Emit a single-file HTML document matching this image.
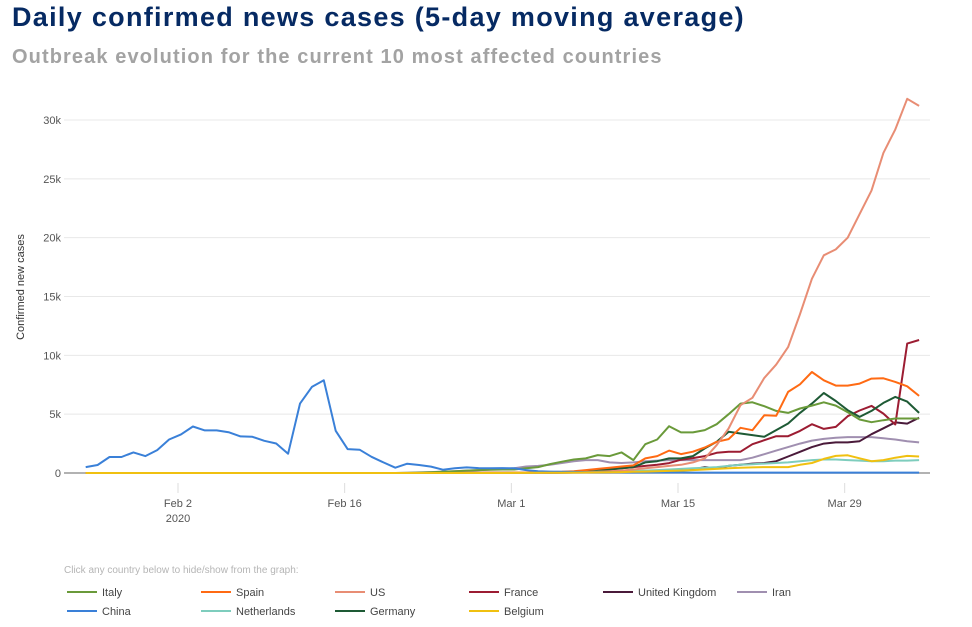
<!DOCTYPE html>
<html><head><meta charset="utf-8"><style>
body{margin:0;background:#fff;width:972px;height:627px;overflow:hidden;font-family:"Liberation Sans",sans-serif}
#t{position:absolute;left:12px;top:2px;font-size:27px;font-weight:bold;color:#062a63;letter-spacing:1.3px}
#s{position:absolute;left:12px;top:46px;font-size:20px;font-weight:bold;color:#a3a3a3;letter-spacing:1.1px}
svg{position:absolute;left:0;top:0}
</style></head><body>
<div id="t">Daily confirmed news cases (5-day moving average)</div>
<div id="s">Outbreak evolution for the current 10 most affected countries</div>
<svg id="c" width="972" height="627"></svg>
<script>
// Days Jan 25 .. Apr 4 (71 points)
const yTicks=[0,5000,10000,15000,20000,25000,30000];
const yTickLabels=["0","5k","10k","15k","20k","25k","30k"];
const xTickDays=[8,22,36,50,64]; // days since Jan 25
const xTickLabels=["Feb 2","Feb 16","Mar 1","Mar 15","Mar 29"];
const countries=["Italy","Spain","US","France","United Kingdom","Iran","China","Netherlands","Germany","Belgium"];
const colors=["#6a9a3a","#ff6a13","#e88d74","#9c1c32","#4a1a3a","#a08fb0","#3a80d8","#7ecdbd","#1e5a35","#f0c010"];
const Z27=[0,0,0,0,0,0,0,0,0,0,0,0,0,0,0,0,0,0,0,0,0,0,0,0,0,0,0];
const italy=Z27.concat([10,30,60,100,150,200,250,280,300,
 300,400,500,760,960,1150,1240,1520,1440,1750,1100,2450,2850,3980,3450,3450,3650,4150,5000,5900,6010,5680,5280,5110,5480,5730,6010,5730,5170,4550,4320,4490,4630,4630,4630]);
const spain=Z27.concat([0,0,0,0,0,5,10,15,20,
 30,40,60,80,100,150,250,350,450,550,650,1240,1440,1900,1610,1810,2170,2650,2880,3840,3640,4910,4860,6890,7540,8580,7880,7430,7430,7600,8020,8050,7740,7370,6550]);
const us=Z27.concat([0,0,0,0,0,5,5,8,10,
 10,15,20,30,40,60,80,100,150,200,300,400,500,600,700,900,1240,2370,3780,5760,6390,8080,9210,10700,13500,16500,18500,19000,20000,22000,24000,27200,29200,31800,31200]);
const france=Z27.concat([0,0,0,0,5,10,15,20,25,
 30,40,50,60,80,100,150,250,300,400,500,600,700,840,1130,1270,1440,1720,1810,1810,2450,2790,3130,3130,3580,4150,3750,3920,4830,5310,5700,5050,4120,11000,11300]);
const uk=Z27.concat([0,0,0,0,0,0,0,5,5,
 10,15,20,25,30,40,50,60,80,100,120,150,170,200,250,300,500,400,600,700,800,850,1000,1400,1800,2200,2500,2600,2600,2700,3300,3800,4300,4200,4700]);
const iran=Z27.concat([20,50,80,120,150,200,250,300,350,
 400,550,600,700,850,1000,1100,1100,900,850,900,1000,1050,1100,1100,1100,1100,1100,1100,1100,1300,1600,1900,2200,2500,2750,2900,3000,3050,3050,3050,2950,2850,2700,2600]);
const china=[500,680,1360,1360,1750,1440,1950,2850,3280,3950,3620,3620,3470,3110,3080,2740,2510,1640,5900,7320,7880,
 3590,2030,1980,1380,900,450,790,680,540,280,400,480,420,400,420,
 400,250,150,120,100,90,80,70,60,50,45,40,40,40,40,35,35,30,30,30,30,30,30,30,30,30,30,30,30,30,30,30,30,30,30];
const netherlands=Z27.concat([0,0,0,0,0,0,0,0,5,
 10,15,20,30,40,60,80,100,120,150,180,200,250,300,350,400,450,500,600,700,750,800,850,900,1000,1100,1150,1150,1100,1050,1000,1000,1050,1050,1100]);
const germany=Z27.concat([0,0,0,0,5,5,10,10,15,
 20,30,40,50,80,120,180,250,300,400,500,900,1000,1240,1240,1440,2090,2650,3500,3360,3220,3080,3650,4210,5110,5900,6800,6120,5340,4770,5280,5960,6470,6070,5110]);
const belgium=Z27.concat([0,0,0,0,0,0,0,0,0,
 5,10,15,20,25,30,40,50,60,80,100,120,150,180,200,250,300,350,400,450,480,500,500,500,700,850,1200,1450,1500,1250,1000,1100,1300,1450,1400]);
const series=[italy,spain,us,france,uk,iran,china,netherlands,germany,belgium];
const drawOrder=[5,4,3,8,7,0,1,2,6,9];

const NS="http://www.w3.org/2000/svg";
const svg=document.getElementById('c');
const X0=64,X1=930,Y0=473,PXK=11.767;
function xs(d){return 178+(d-8+0.25)*11.905;}
function ys(v){return Y0-v/1000*PXK;}
function mk(tag,attrs,parent){const e=document.createElementNS(NS,tag);for(const k in attrs)e.setAttribute(k,attrs[k]);(parent||svg).appendChild(e);return e;}

yTicks.forEach((v,i)=>{
  if(v>0){const g=mk('line',{x1:X0,x2:X1,y1:ys(v),y2:ys(v),stroke:'#e8e8e8','stroke-width':1});
  
  }
  const t=mk('text',{x:61,y:ys(v)+4,'text-anchor':'end','font-size':11,fill:'#555'});
  t.textContent=yTickLabels[i];
  
  
});
const ax=mk('line',{x1:X0,x2:X1,y1:Y0,y2:Y0,stroke:'#999','stroke-width':1.5});


xTickDays.forEach((d,i)=>{
  const x=178+(d-8)*11.905;
  const tk=mk('line',{x1:x,x2:x,y1:483,y2:493,stroke:'#ddd'});
  
  
  const t=mk('text',{x:x,y:507,'text-anchor':'middle','font-size':11,fill:'#555'});
  t.textContent=xTickLabels[i];
  
  
});
const yr=mk('text',{x:178,y:522,'text-anchor':'middle','font-size':11,fill:'#555'});
yr.textContent='2020';


const yt=mk('text',{x:24,y:287,'text-anchor':'middle','font-size':11,fill:'#333',transform:'rotate(-90 24 287)'});
yt.textContent='Confirmed new cases';



drawOrder.forEach(i=>{
  const pts=series[i].map((v,d)=>xs(d).toFixed(1)+','+ys(v).toFixed(1)).join(' ');
  const p=mk('polyline',{points:pts,fill:'none',stroke:colors[i],'stroke-width':2,'stroke-linejoin':'round'});
  
  
});

const note=mk('text',{x:64,y:573,'font-size':10,fill:'#b5b5b5'});
note.textContent='Click any country below to hide/show from the graph:';


countries.forEach((c,i)=>{
  const col=i<6?i:i-6,row=i<6?0:1;
  const x=67+col*134,y=592+row*19;
  const g=mk('g',{});
  
  
  mk('line',{x1:x,x2:x+30,y1:y,y2:y,stroke:colors[i],'stroke-width':2},g);
  const t=mk('text',{x:x+35,y:y+4,'font-size':11,fill:'#444'},g);
  t.textContent=c;
});
</script>
</body></html>
